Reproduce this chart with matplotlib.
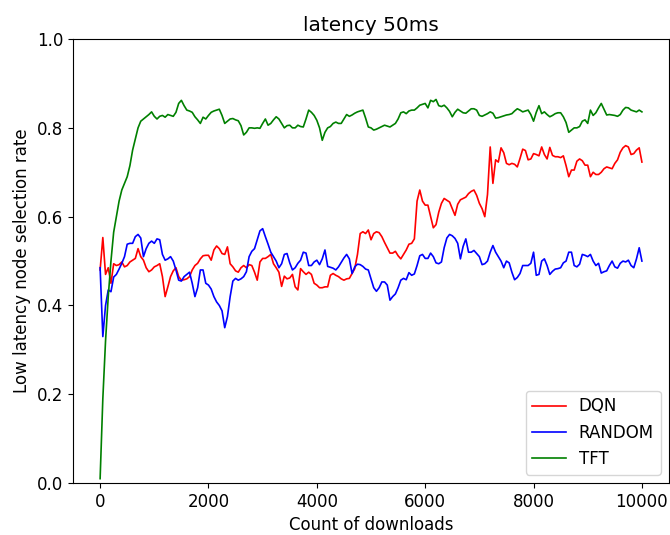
import numpy as np
import matplotlib
matplotlib.use("Agg")
import matplotlib.pyplot as plt

# download counts, one sample every 50 downloads
downloads = np.arange(0, 10001, 50)

dqn = [
    0.48, 0.553, 0.47, 0.485, 0.45, 0.494, 0.49, 0.492, 0.498, 0.487,
    0.49, 0.498, 0.502, 0.506, 0.528, 0.51, 0.502, 0.485, 0.476, 0.48,
    0.487, 0.49, 0.494, 0.465, 0.42, 0.442, 0.465, 0.478, 0.485, 0.465,
    0.457, 0.458, 0.46, 0.465, 0.48, 0.49, 0.495, 0.505, 0.512, 0.513,
    0.513, 0.502, 0.525, 0.534, 0.528, 0.517, 0.515, 0.532, 0.494, 0.487,
    0.478, 0.475, 0.485, 0.49, 0.485, 0.492, 0.49, 0.475, 0.457, 0.498,
    0.506, 0.506, 0.51, 0.515, 0.494, 0.485, 0.475, 0.443, 0.466, 0.46,
    0.462, 0.47, 0.442, 0.435, 0.483, 0.476, 0.47, 0.475, 0.47, 0.45,
    0.446, 0.44, 0.44, 0.442, 0.442, 0.468, 0.472, 0.468, 0.465, 0.46,
    0.457, 0.46, 0.461, 0.472, 0.483, 0.515, 0.562, 0.566, 0.562, 0.57,
    0.548, 0.562, 0.566, 0.564, 0.555, 0.542, 0.53, 0.518, 0.518, 0.522,
    0.512, 0.505, 0.515, 0.525, 0.538, 0.54, 0.55, 0.635, 0.66, 0.635,
    0.626, 0.626, 0.6, 0.575, 0.582, 0.61, 0.63, 0.641, 0.637, 0.633,
    0.618, 0.603, 0.628, 0.638, 0.641, 0.644, 0.652, 0.657, 0.66, 0.648,
    0.63, 0.618, 0.6, 0.65, 0.757, 0.675, 0.728, 0.723, 0.755, 0.744,
    0.72, 0.717, 0.72, 0.718, 0.712, 0.731, 0.752, 0.749, 0.728, 0.73,
    0.742, 0.74, 0.737, 0.757, 0.74, 0.73, 0.756, 0.738, 0.735, 0.735,
    0.733, 0.737, 0.715, 0.69, 0.705, 0.705, 0.725, 0.73, 0.726, 0.716,
    0.716, 0.69, 0.70, 0.695, 0.695, 0.70, 0.708, 0.712, 0.71, 0.708,
    0.72, 0.728, 0.745, 0.755, 0.76, 0.757, 0.74, 0.742, 0.75, 0.755,
    0.723,
]

random_sel = [
    0.485, 0.33, 0.40, 0.435, 0.431, 0.464, 0.47, 0.482, 0.495, 0.51,
    0.538, 0.54, 0.54, 0.555, 0.56, 0.552, 0.51, 0.528, 0.54, 0.545,
    0.54, 0.55, 0.548, 0.515, 0.502, 0.505, 0.51, 0.50, 0.48, 0.457,
    0.455, 0.465, 0.47, 0.475, 0.45, 0.42, 0.44, 0.48, 0.48, 0.45,
    0.446, 0.437, 0.42, 0.408, 0.40, 0.388, 0.35, 0.375, 0.42, 0.455,
    0.461, 0.457, 0.46, 0.465, 0.476, 0.51, 0.522, 0.528, 0.548, 0.568,
    0.573, 0.555, 0.538, 0.52, 0.51, 0.50, 0.485, 0.494, 0.515, 0.517,
    0.496, 0.48, 0.485, 0.495, 0.502, 0.52, 0.518, 0.49, 0.49, 0.498,
    0.502, 0.492, 0.505, 0.525, 0.488, 0.486, 0.484, 0.48, 0.487, 0.497,
    0.507, 0.515, 0.505, 0.472, 0.487, 0.493, 0.492, 0.488, 0.482, 0.48,
    0.46, 0.44, 0.432, 0.44, 0.453, 0.453, 0.446, 0.412, 0.42, 0.426,
    0.44, 0.457, 0.461, 0.458, 0.474, 0.468, 0.471, 0.49, 0.512, 0.515,
    0.506, 0.506, 0.518, 0.51, 0.496, 0.494, 0.498, 0.53, 0.552, 0.56,
    0.557, 0.551, 0.54, 0.505, 0.533, 0.55, 0.52, 0.52, 0.524, 0.517,
    0.51, 0.492, 0.494, 0.50, 0.52, 0.535, 0.52, 0.51, 0.50, 0.485,
    0.50, 0.496, 0.475, 0.458, 0.463, 0.472, 0.49, 0.49, 0.49, 0.495,
    0.52, 0.468, 0.47, 0.50, 0.505, 0.49, 0.47, 0.477, 0.482, 0.483,
    0.485, 0.496, 0.50, 0.52, 0.52, 0.49, 0.487, 0.493, 0.515, 0.513,
    0.51, 0.515, 0.50, 0.49, 0.495, 0.473, 0.476, 0.478, 0.49, 0.50,
    0.487, 0.484, 0.495, 0.50, 0.498, 0.502, 0.49, 0.485, 0.505, 0.53,
    0.50,
]

tft = [
    0.01, 0.19, 0.32, 0.42, 0.50, 0.565, 0.60, 0.635, 0.66, 0.675,
    0.69, 0.715, 0.75, 0.775, 0.80, 0.815, 0.82, 0.825, 0.83, 0.836,
    0.826, 0.82, 0.826, 0.828, 0.824, 0.83, 0.828, 0.826, 0.835, 0.855,
    0.862, 0.85, 0.84, 0.838, 0.835, 0.825, 0.818, 0.81, 0.824, 0.82,
    0.828, 0.835, 0.838, 0.84, 0.842, 0.828, 0.81, 0.815, 0.82, 0.821,
    0.818, 0.816, 0.805, 0.784, 0.79, 0.80, 0.80, 0.799, 0.80, 0.799,
    0.81, 0.82, 0.806, 0.81, 0.818, 0.825, 0.82, 0.81, 0.80, 0.805,
    0.806, 0.80, 0.80, 0.806, 0.803, 0.802, 0.82, 0.84, 0.835, 0.828,
    0.817, 0.80, 0.772, 0.79, 0.80, 0.803, 0.81, 0.813, 0.81, 0.81,
    0.82, 0.83, 0.826, 0.829, 0.833, 0.836, 0.838, 0.84, 0.822, 0.802,
    0.80, 0.795, 0.797, 0.80, 0.803, 0.806, 0.804, 0.802, 0.806, 0.81,
    0.82, 0.834, 0.836, 0.832, 0.838, 0.84, 0.84, 0.845, 0.851, 0.853,
    0.855, 0.845, 0.862, 0.859, 0.864, 0.85, 0.848, 0.851, 0.845, 0.837,
    0.825, 0.835, 0.842, 0.838, 0.834, 0.833, 0.838, 0.843, 0.843, 0.84,
    0.828, 0.826, 0.829, 0.832, 0.836, 0.833, 0.822, 0.823, 0.825, 0.827,
    0.829, 0.83, 0.832, 0.838, 0.843, 0.84, 0.836, 0.838, 0.84, 0.83,
    0.815, 0.835, 0.85, 0.832, 0.836, 0.83, 0.825, 0.828, 0.832, 0.834,
    0.834, 0.825, 0.812, 0.79, 0.795, 0.80, 0.80, 0.803, 0.815, 0.818,
    0.81, 0.84, 0.828, 0.834, 0.845, 0.855, 0.842, 0.829, 0.83, 0.829,
    0.828, 0.826, 0.83, 0.84, 0.846, 0.845, 0.84, 0.838, 0.836, 0.84,
    0.836,
]

plt.rcParams["font.size"] = 12

fig = plt.figure(figsize=(6.7, 5.35), dpi=100)
ax = fig.add_axes([0.109, 0.097, 0.8895, 0.83])

ax.plot(downloads, dqn, color="red", lw=1.2, label="DQN")
ax.plot(downloads, random_sel, color="blue", lw=1.2, label="RANDOM")
ax.plot(downloads, tft, color="green", lw=1.2, label="TFT")

ax.set_ylim(0.0, 1.0)
ax.set_title("latency 50ms")
ax.set_xlabel("Count of downloads")
ax.set_ylabel("Low latency node selection rate")
ax.legend(loc="lower right")

fig.savefig("out.png", dpi=100)
